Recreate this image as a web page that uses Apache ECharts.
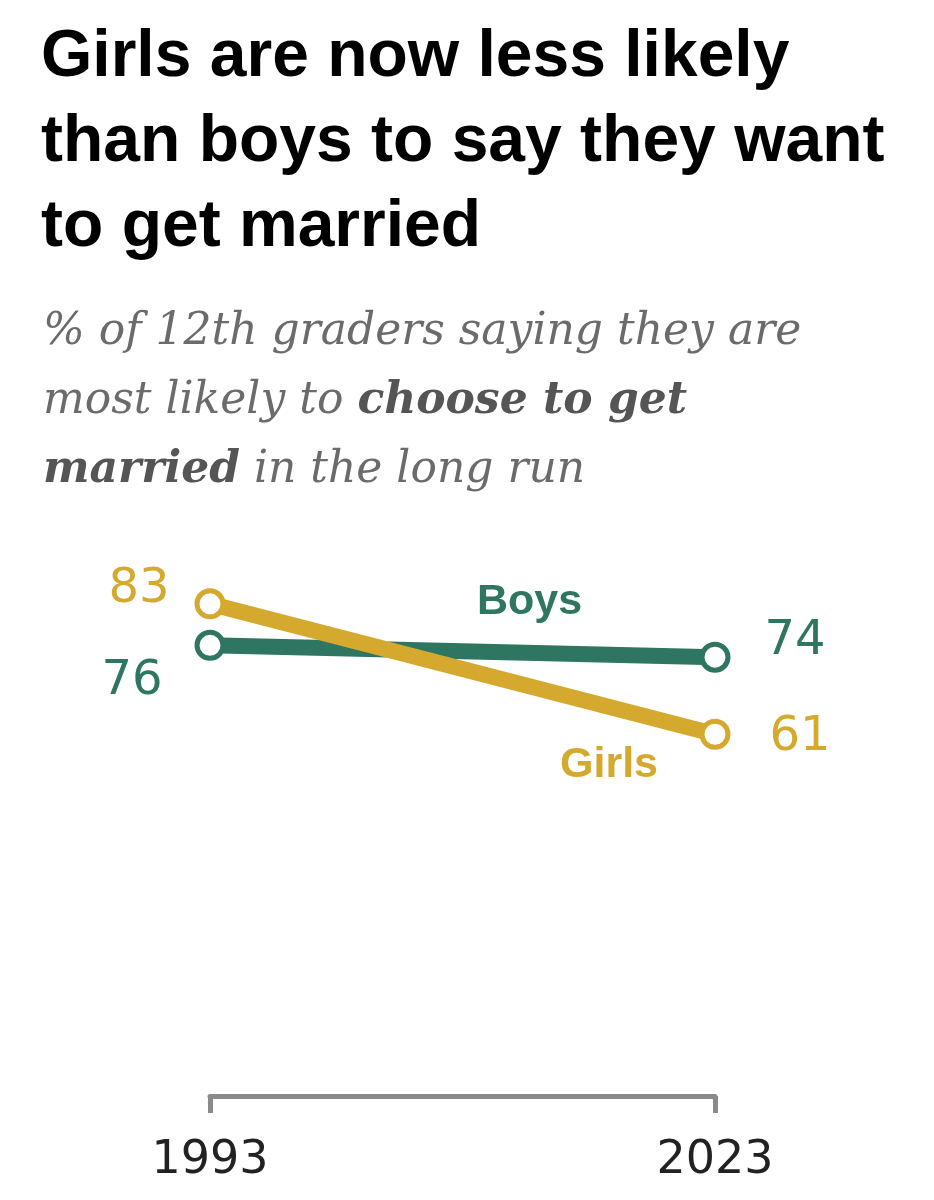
<!DOCTYPE html>
<html><head><meta charset="utf-8">
<script src="https://cdn.jsdelivr.net/npm/echarts@6/dist/echarts.min.js"></script>
<style>html,body{margin:0;padding:0;background:#fff}#c{width:934px;height:1200px}</style>
</head><body><div id="c"></div>
<script>
const years = ['1993', '2023'];
const girls = [83, 61];
const boys = [76, 74];
const titleText = 'Girls are now less likely\nthan boys to say they want\nto get married';

const GOLD = '#d4a92e';
const GREEN = '#2e7562';

const chart = echarts.init(document.getElementById('c'), null, {renderer: 'canvas'});
chart.setOption({
  backgroundColor: '#fff',
  animation: false,
  title: [{
    text: titleText,
    left: 36, top: 10,
    textStyle: {fontFamily: 'Liberation Sans', fontWeight: 'bold', fontSize: 66, lineHeight: 85, color: '#000'}
  }, {
    text: '{i|% of 12th graders saying they are}\n{i|most likely to }{b|choose to get}\n{b|married}{i| in the long run}',
    left: 38, top: 293,
    textStyle: {
      fontWeight: 'normal',
      rich: {
        i: {fontFamily: 'DejaVu Serif', fontStyle: 'italic', fontWeight: 'normal', fontSize: 44, lineHeight: 69, color: '#6b6b6b'},
        b: {fontFamily: 'DejaVu Serif', fontStyle: 'italic', fontWeight: 'bold', fontSize: 44, lineHeight: 69, color: '#555'}
      }
    }
  }],
  grid: {left: 210, right: 219, top: 503, bottom: 104, containLabel: false},
  xAxis: {
    type: 'category', data: years, boundaryGap: false,
    axisLine: {lineStyle: {color: '#8a8a8a', width: 5}},
    axisTick: {show: true, length: 17, lineStyle: {color: '#8a8a8a', width: 5}},
    axisLabel: {fontFamily: 'DejaVu Sans', fontSize: 46, color: '#222', margin: 42}
  },
  yAxis: {type: 'value', min: 0, max: 100, show: false, splitLine: {show: false}},
  series: [{
    name: 'Boys', type: 'line', data: [
      {value: boys[0], label: {position: 'left', distance: 32, offset: [0, 36]}},
      {value: boys[1], label: {position: 'right', distance: 34, offset: [0, -16]}}
    ],
    lineStyle: {color: GREEN, width: 16},
    itemStyle: {color: '#fff', borderColor: GREEN, borderWidth: 5},
    symbol: 'circle', symbolSize: 26,
    label: {show: true, fontFamily: 'DejaVu Sans', fontSize: 48, color: GREEN},
    z: 2
  }, {
    name: 'Girls', type: 'line', data: [
      {value: girls[0], label: {position: 'left', distance: 25, offset: [0, -14]}},
      {value: girls[1], label: {position: 'right', distance: 39, offset: [0, 3]}}
    ],
    lineStyle: {color: GOLD, width: 16},
    itemStyle: {color: '#fff', borderColor: GOLD, borderWidth: 5},
    symbol: 'circle', symbolSize: 26,
    label: {show: true, fontFamily: 'DejaVu Sans', fontSize: 48, color: GOLD},
    z: 3
  }],
  graphic: [
    {type: 'text', left: 477, top: 581, style: {text: 'Boys', font: 'bold 43px "Liberation Sans"', fill: GREEN}},
    {type: 'text', left: 560, top: 744, style: {text: 'Girls', font: 'bold 43px "Liberation Sans"', fill: GOLD}}
  ]
});
</script></body></html>
